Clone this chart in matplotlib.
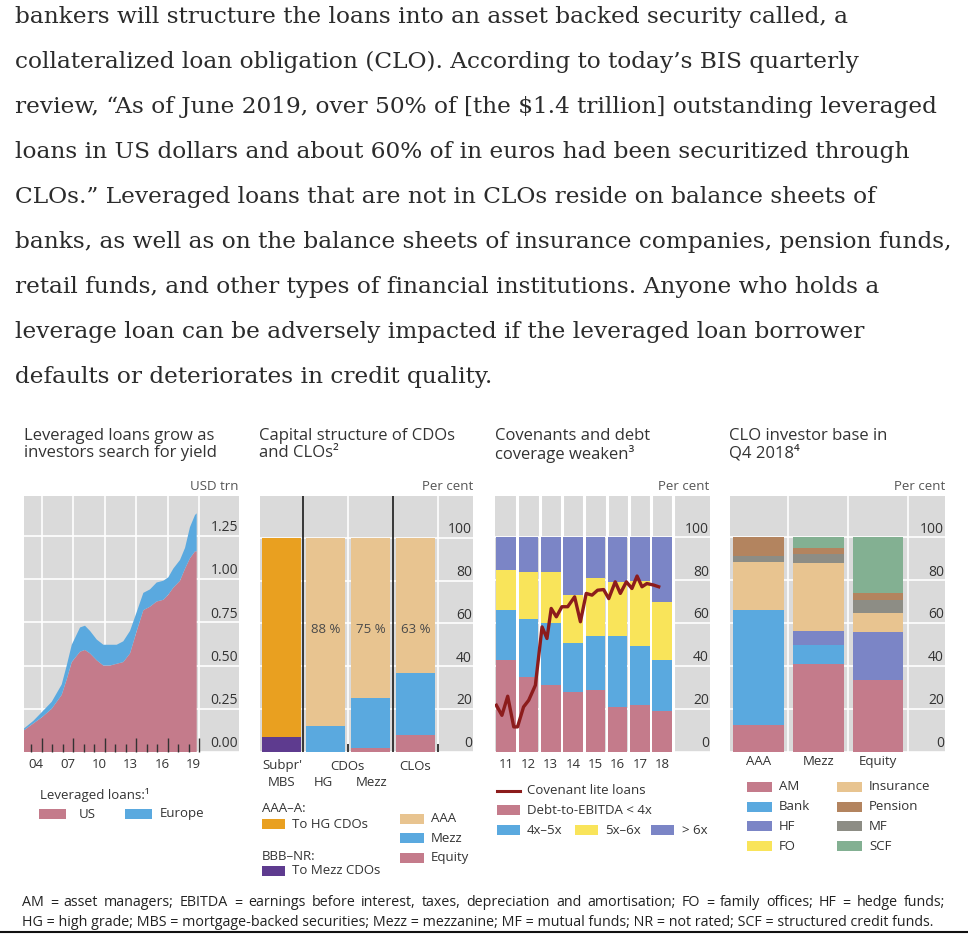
import matplotlib
matplotlib.use("Agg")
import matplotlib.pyplot as plt
import matplotlib.transforms as mtransforms
from matplotlib.patches import Rectangle
from matplotlib.lines import Line2D

W, H = 968, 935
plt.rcParams['font.family'] = ['Open Sans', 'DejaVu Sans']

# ---- article text above the chart ----
article_lines = [
    "bankers will structure the loans into an asset backed security called, a",
    "collateralized loan obligation (CLO). According to today\u2019s BIS quarterly",
    "review, \u201cAs of June 2019, over 50% of [the $1.4 trillion] outstanding leveraged",
    "loans in US dollars and about 60% of in euros had been securitized through",
    "CLOs.\u201d Leveraged loans that are not in CLOs reside on balance sheets of",
    "banks, as well as on the balance sheets of insurance companies, pension funds,",
    "retail funds, and other types of financial institutions. Anyone who holds a",
    "leverage loan can be adversely impacted if the leveraged loan borrower",
    "defaults or deteriorates in credit quality.",
]
footnote_lines = [
    "AM = asset managers; EBITDA = earnings before interest, taxes, depreciation and "
    "amortisation; FO = family offices; HF = hedge funds;",
    "HG = high grade; MBS = mortgage-backed securities; Mezz = mezzanine; "
    "MF = mutual funds; NR = not rated; SCF = structured credit funds.",
]

# ---- panel 1: leveraged loans outstanding, USD trn ----
lev_years = [2003.33, 2004.22, 2005.02, 2005.97, 2006.92, 2007.40, 2007.88, 2008.67,
             2009.14, 2009.62, 2010.26, 2010.89, 2011.52, 2012.16, 2012.79, 2013.43,
             2014.07, 2014.70, 2015.33, 2015.97, 2016.60, 2017.08, 2017.55, 2018.19,
             2018.67, 2019.14, 2019.62, 2019.78]
lev_us = [0.126, 0.165, 0.20, 0.25, 0.33, 0.42, 0.52, 0.58, 0.59, 0.57, 0.53, 0.50,
          0.50, 0.51, 0.52, 0.57, 0.70, 0.82, 0.84, 0.87, 0.88, 0.91, 0.95, 0.99,
          1.06, 1.12, 1.16, 1.16]
lev_europe = [0.01, 0.015, 0.03, 0.04, 0.06, 0.08, 0.10, 0.14, 0.14, 0.13, 0.12, 0.12,
              0.12, 0.11, 0.12, 0.13, 0.11, 0.10, 0.10, 0.11, 0.11, 0.10, 0.11, 0.12,
              0.12, 0.18, 0.21, 0.22]
lev_ticks = ["04", "07", "10", "13", "16", "19"]
lev_tick_years = [2004.5, 2007.5, 2010.5, 2013.5, 2016.5, 2019.5]

# ---- panel 2: capital structure, per cent ----
cap_to_mezz_cdos = [7, 0, 0, 0]
cap_to_hg_cdos = [93, 0, 0, 0]
cap_equity = [0, 0, 2, 8]
cap_mezz = [0, 12, 23, 29]
cap_aaa = [0, 88, 75, 63]

# ---- panel 3: covenants and debt coverage, per cent ----
cov_years = [2011, 2012, 2013, 2014, 2015, 2016, 2017, 2018]
cov_lt4 = [43, 35, 31, 28, 29, 21, 22, 19]
cov_4to5 = [23, 27, 29, 23, 25, 33, 27.5, 24]
cov_5to6 = [19, 22, 24, 22, 27, 25, 30, 27]
cov_gt6 = [15, 16, 16, 27, 19, 21, 20.5, 30]
covlite_dates = [2011.06, 2011.31, 2011.57, 2011.84, 2012.01, 2012.28, 2012.51, 2012.81,
                 2013.11, 2013.33, 2013.52, 2013.75, 2014.00, 2014.26, 2014.57, 2014.83,
                 2015.09, 2015.35, 2015.60, 2015.87, 2016.10, 2016.39, 2016.62, 2016.89,
                 2017.14, 2017.37, 2017.59, 2017.81, 2018.11, 2018.34]
covlite_share = [21.8, 17.1, 26.0, 11.7, 11.7, 21.0, 24.1, 31.1, 58.3, 52.9, 66.9, 63.0,
                 67.7, 67.7, 72.3, 60.7, 73.9, 73.1, 75.4, 75.7, 71.5, 79.3, 73.9, 79.3,
                 76.2, 82.0, 77.0, 78.5, 77.8, 77.0]

# ---- panel 4: CLO investor base, per cent ----
inv_tranches = ["AAA", "Mezz", "Equity"]
inv_groups = ["AM", "Bank", "HF", "FO", "Insurance", "MF", "Pension", "SCF"]
inv_shares = {
    "AM": [12.8, 41.2, 33.4],
    "Bank": [53.3, 8.6, 0],
    "HF": [0, 6.7, 22.3],
    "FO": [0, 0, 0],
    "Insurance": [22.5, 31.7, 9.2],
    "MF": [2.7, 4.3, 5.9],
    "Pension": [8.7, 2.7, 3.1],
    "SCF": [0, 4.8, 26.1],
}

GREY = "#dadada"
PINK = "#c47b8b"
BLUE = "#5aa9df"
ORANGE = "#e9a020"
TAN = "#e8c490"
PURPLE = "#5e3b8f"
VIOLET = "#7b85c6"
YELLOW = "#f9e45a"
BROWN = "#b3845f"
MFGREY = "#8d8d85"
GREEN = "#83b092"
RED = "#8c1c1c"
TXT = "#333333"
inv_colors = {"AM": PINK, "Bank": BLUE, "HF": VIOLET, "FO": YELLOW, "Insurance": TAN,
              "MF": MFGREY, "Pension": BROWN, "SCF": GREEN}

fig = plt.figure(figsize=(W / 100, H / 100), dpi=100)
fig.patch.set_facecolor("white")
# pixel coordinates measured from the top-left corner
TOP = mtransforms.Affine2D().scale(1 / W, -1 / H).translate(0, 1) + fig.transFigure


def px_axes(x0, y0, x1, y1):
    return fig.add_axes([x0 / W, 1 - y1 / H, (x1 - x0) / W, (y1 - y0) / H])


def ptext(x, y, s, size=9.5, **kw):
    kw.setdefault("va", "center")
    kw.setdefault("color", TXT)
    return fig.text(x, y, s, transform=TOP, fontsize=size, **kw)


def patch(x, y, color, w=24, h=10):
    fig.patches.append(Rectangle((x, y - h / 2), w, h, transform=TOP,
                                 facecolor=color, edgecolor="none"))


def justified(line, x0, x1, y, size, color):
    # spread the words of one line over x0..x1
    r = fig.canvas.get_renderer()
    words = line.split(" ")
    items = [ptext(x0, y, w, size=size, color=color) for w in words]
    widths = [t.get_window_extent(r).width for t in items]
    gap = (x1 - x0 - sum(widths)) / (len(words) - 1)
    x = x0
    for t, w in zip(items, widths):
        t.set_x(x)
        x += w + gap


def base_panel(ax, ymax, yticks, ylabels):
    ax.set_facecolor(GREY)
    ax.set_ylim(0, ymax)
    for s in ax.spines.values():
        s.set_visible(False)
    ax.set_yticks([])
    ax.tick_params(axis="x", labelbottom=False)
    for v in yticks:
        ax.axhline(v, color="white", lw=1.2, zorder=0.5)
    trans = mtransforms.blended_transform_factory(ax.transAxes, ax.transData)
    for v, lab in zip(yticks, ylabels):
        ax.text(0.995, v + ymax * 0.003, lab, transform=trans, ha="right", va="bottom",
                fontsize=10, color=TXT)


def xlabels(ax, xs, labs, dy=6):
    for x, lab in zip(xs, labs):
        ax.annotate(lab, xy=(x, 0), xycoords=("data", "axes fraction"),
                    xytext=(0, -dy), textcoords="offset pixels",
                    ha="center", va="top", fontsize=9.5, color=TXT)


# article
for i, line in enumerate(article_lines):
    fig.text(15, 23 + 45 * i, line, transform=TOP, fontsize=16.75, family="DejaVu Serif",
             color="#2b2b2b", va="baseline")

# titles
titles = [(24, "Leveraged loans grow as\ninvestors search for yield", "USD trn", 239),
          (259, "Capital structure of CDOs\nand CLOs\u00b2", "Per cent", 473),
          (495, "Covenants and debt\ncoverage weaken\u00b3", "Per cent", 709),
          (729, "CLO investor base in\nQ4 2018\u2074", "Per cent", 945)]
for x, t, unit, xr in titles:
    ptext(x, 428, t, size=12.0, va="top", linespacing=1.08)
    ptext(xr, 487, unit, size=9.5, ha="right", color="#555555")

# ---- panel 1 ----
ax1 = px_axes(24, 496, 239, 752)
ax1.set_xlim(2003.33, 2023.81)
base_panel(ax1, 1.48, [0, 0.25, 0.5, 0.75, 1.0, 1.25],
           ["0.00", "0.25", "0.50", "0.75", "1.00", "1.25"])
for yr in [2005, 2008, 2011, 2014, 2017, 2020]:
    ax1.axvline(yr, color="white", lw=1.2, zorder=0.5)
ax1.stackplot(lev_years, lev_us, lev_europe, colors=[PINK, BLUE], lw=0, zorder=1)
ax1.set_xticks([2005, 2008, 2011, 2014, 2017, 2020])
ax1.set_xticks(list(range(2004, 2020)), minor=True)
ax1.tick_params(axis="x", which="major", direction="in", length=10, width=1, color="#333333")
ax1.tick_params(axis="x", which="minor", direction="in", length=5.5, width=1, color="#333333")
xlabels(ax1, lev_tick_years, lev_ticks)

ptext(40, 795, "Leveraged loans:\u00b9")
patch(39, 814, PINK, w=27)
ptext(79, 814, "US")
patch(125, 814, BLUE, w=27)
ptext(160, 814, "Europe")

# ---- panel 2 ----
ax2 = px_axes(260, 496, 473, 752)
ax2.set_xlim(-0.47, 4.28)
base_panel(ax2, 119.5, [0, 20, 40, 60, 80, 100], ["0", "20", "40", "60", "80", "100"])
for xv in [1.5, 3.5]:
    ax2.axvline(xv, color="white", lw=1.2, zorder=0.5)
pos = [0, 1, 2, 3]
bw = 0.87
ax2.bar(pos, cap_to_mezz_cdos, bw, color=PURPLE, zorder=1)
ax2.bar(pos, cap_to_hg_cdos, bw, bottom=cap_to_mezz_cdos, color=ORANGE, zorder=1)
ax2.bar(pos, cap_equity, bw, color=PINK, zorder=1)
ax2.bar(pos, cap_mezz, bw, bottom=cap_equity, color=BLUE, zorder=1)
b2 = [e + m for e, m in zip(cap_equity, cap_mezz)]
ax2.bar(pos, cap_aaa, bw, bottom=b2, color=TAN, zorder=1)
for xv in [0.5, 2.5]:
    ax2.axvline(xv, color="#1a1a1a", lw=1.2, zorder=3)
ax2.set_xticks([1.5, 3.5])
ax2.tick_params(axis="x", direction="in", length=6, width=1.2, color="#1a1a1a")
for p, v in zip(pos[1:], cap_aaa[1:]):
    ax2.text(p, 57, f"{v} %", ha="center", va="center", fontsize=9.5, color="#4a4a4a")
ptext(282, 766, "Subpr'", ha="center")
ptext(282, 782, "MBS", ha="center")
ptext(347, 766, "CDOs", ha="center")
ptext(323, 782, "HG", ha="center")
ptext(372, 782, "Mezz", ha="center")
ptext(415, 766, "CLOs", ha="center")

ptext(262, 808, "AAA\u2013A:")
patch(262, 824, ORANGE, w=23)
ptext(292, 824, "To HG CDOs")
ptext(262, 856, "BBB\u2013NR:")
patch(262, 871, PURPLE, w=23)
ptext(292, 871, "To Mezz CDOs")
for yy, col, lab in [(819, TAN, "AAA"), (838, BLUE, "Mezz"), (858, PINK, "Equity")]:
    patch(400, yy, col, w=24)
    ptext(431, yy, lab)

# ---- panel 3 ----
ax3 = px_axes(495, 496, 710, 752)
ax3.set_xlim(2011.0, 2020.64)
base_panel(ax3, 119.3, [0, 20, 40, 60, 80, 100], ["0", "20", "40", "60", "80", "100"])
for yr in range(2012, 2020):
    ax3.axvline(yr, color="white", lw=2.2, zorder=0.5)
centres = [y + 0.5 for y in cov_years]
bottom = [0] * len(cov_years)
for vals, col in [(cov_lt4, PINK), (cov_4to5, BLUE), (cov_5to6, YELLOW), (cov_gt6, VIOLET)]:
    ax3.bar(centres, vals, 0.88, bottom=bottom, color=col, zorder=1)
    bottom = [b + v for b, v in zip(bottom, vals)]
ax3.plot(covlite_dates, covlite_share, color=RED, lw=2.4, zorder=3, solid_joinstyle="round")
ax3.set_xticks([])
xlabels(ax3, centres, [str(y)[2:] for y in cov_years])

fig.lines.append(Line2D([497, 520], [790.5, 790.5], transform=TOP, color=RED, lw=2.2))
ptext(527, 790, "Covenant lite loans")
patch(497, 810, PINK, w=23)
ptext(527, 810, "Debt-to-EBITDA < 4x")
patch(497, 830, BLUE, w=23)
ptext(527, 830, "4x\u20135x")
patch(575, 830, YELLOW, w=23)
ptext(605, 830, "5x\u20136x")
patch(651, 830, VIOLET, w=23)
ptext(682, 830, "> 6x")

# ---- panel 4 ----
ax4 = px_axes(730, 496, 945, 752)
ax4.set_xlim(-0.477, 3.12)
base_panel(ax4, 119.3, [0, 20, 40, 60, 80, 100], ["0", "20", "40", "60", "80", "100"])
for xv in [0.5, 1.5, 2.5]:
    ax4.axvline(xv, color="white", lw=1.2, zorder=0.5)
xpos = [0, 1, 2]
bottom = [0, 0, 0]
for g in inv_groups:
    ax4.bar(xpos, inv_shares[g], 0.85, bottom=bottom, color=inv_colors[g], zorder=1)
    bottom = [b + v for b, v in zip(bottom, inv_shares[g])]
ax4.set_xticks([])
xlabels(ax4, xpos, inv_tranches, dy=3)

for i, g in enumerate(["AM", "Bank", "HF", "FO"]):
    patch(747, 787 + 19.7 * i, inv_colors[g], w=25)
    ptext(779, 787 + 19.7 * i, g)
for i, g in enumerate(["Insurance", "Pension", "MF", "SCF"]):
    patch(837, 787 + 19.7 * i, inv_colors[g], w=25)
    ptext(869, 787 + 19.7 * i, g)

# footnote
justified(footnote_lines[0], 22, 945, 903, 10.3, "#222222")
ptext(22, 922, footnote_lines[1], size=10.3, color="#222222")
fig.lines.append(Line2D([0, W], [932, 932], transform=TOP, color="#111111", lw=1.5))

fig.savefig("out.png", dpi=100, facecolor="white")
